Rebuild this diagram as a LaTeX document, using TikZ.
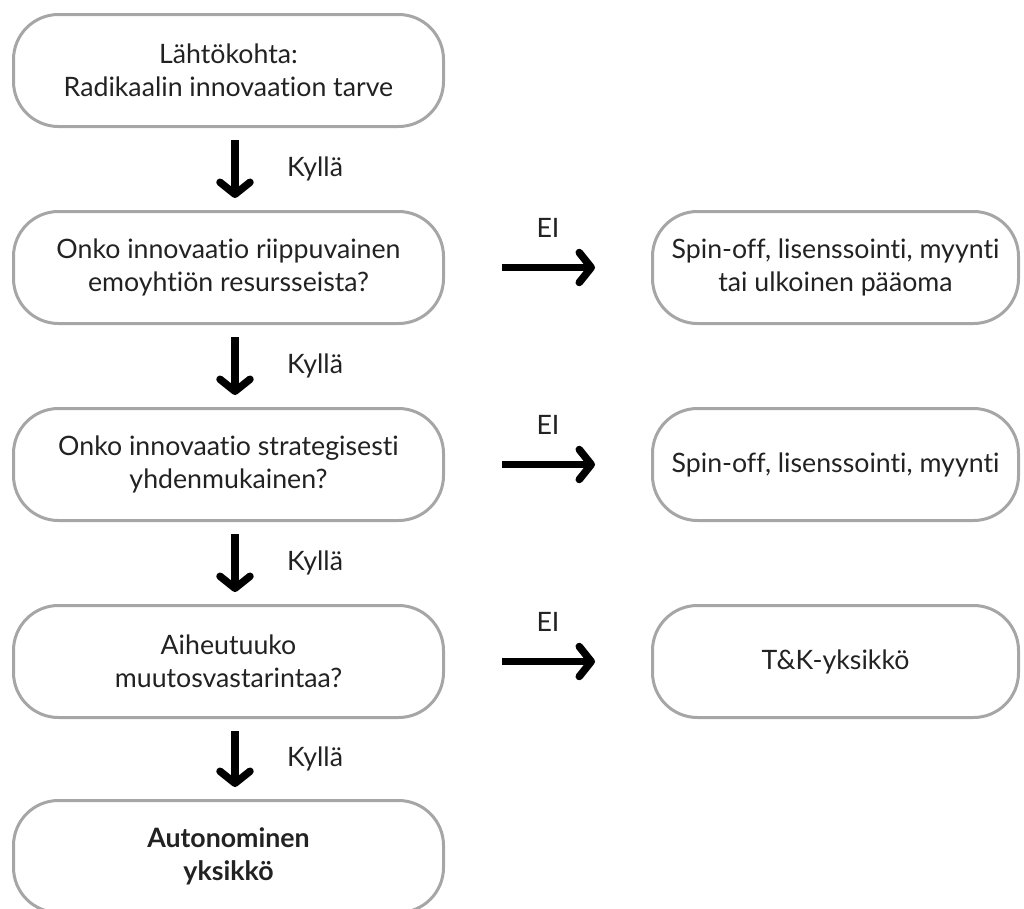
\documentclass[tikz,border=0pt]{standalone}
\usepackage{fontspec}
\setmainfont{Lato}[Ligatures=NoCommon]
\usetikzlibrary{positioning,arrows.meta}

\definecolor{reunaharmaa}{HTML}{A6A6A6}
\definecolor{tekstimusta}{HTML}{222222}

\tikzset{
  laatikko/.style={draw=reunaharmaa, line width=0.06cm, rounded corners=0.9cm,
    minimum width=8.6cm, minimum height=2.24cm, align=center,
    text=tekstimusta, font=\fontsize{15.2}{19}\selectfont},
  sivulaatikko/.style={laatikko, minimum width=7.32cm},
  nuoli/.style={line width=0.15cm,
    -{Straight Barb[length=0.24cm, width=0.6cm, line cap=round, line join=round]}},
  vastaus/.style={text=tekstimusta, font=\fontsize{15.2}{19}\selectfont},
}

\begin{document}
\begin{tikzpicture}
  \useasboundingbox (0,0) rectangle (20.48,-18.18);

  % Vasen sarake
  \node [laatikko] (alku) at (4.57,-1.41) {Lähtökohta:\\Radikaalin innovaation tarve};
  \node [laatikko, below=1.64cm of alku] (k1) {Onko innovaatio riippuvainen\\emoyhtiön resursseista?};
  \node [laatikko, below=1.64cm of k1] (k2) {Onko innovaatio strategisesti\\yhdenmukainen?};
  \node [laatikko, below=1.64cm of k2] (k3) {Aiheutuuko\\muutosvastarintaa?};
  \node [laatikko, below=1.6cm of k3, font=\fontsize{15.2}{19}\selectfont\bfseries] (tulos) {Autonominen\\yksikkö};

  % Oikea sarake
  \node [sivulaatikko, right=4.12cm of k1] (r1) {Spin-off, lisenssointi, myynti\\tai ulkoinen pääoma};
  \node [sivulaatikko, right=4.12cm of k2] (r2) {Spin-off, lisenssointi, myynti};
  \node [sivulaatikko, right=4.12cm of k3] (r3) {T\&K-yksikkö};

  % Kyllä-nuolet
  \foreach \a/\b in {alku/k1, k1/k2, k2/k3, k3/tulos} {
    \draw [nuoli, shorten <=0.24cm, shorten >=0.24cm]
      ([xshift=0.13cm]\a.south) -- ([xshift=0.13cm]\b.north)
      node [vastaus, midway, xshift=1.6cm] {Kyllä};
  }

  % Ei-nuolet
  \foreach \a/\b in {k1/r1, k2/r2, k3/r3} {
    \draw [nuoli, shorten <=1.14cm, shorten >=1.12cm] (\a.east) -- (\b.west)
      node [vastaus, midway, yshift=0.8cm] {EI};
  }
\end{tikzpicture}
\end{document}
